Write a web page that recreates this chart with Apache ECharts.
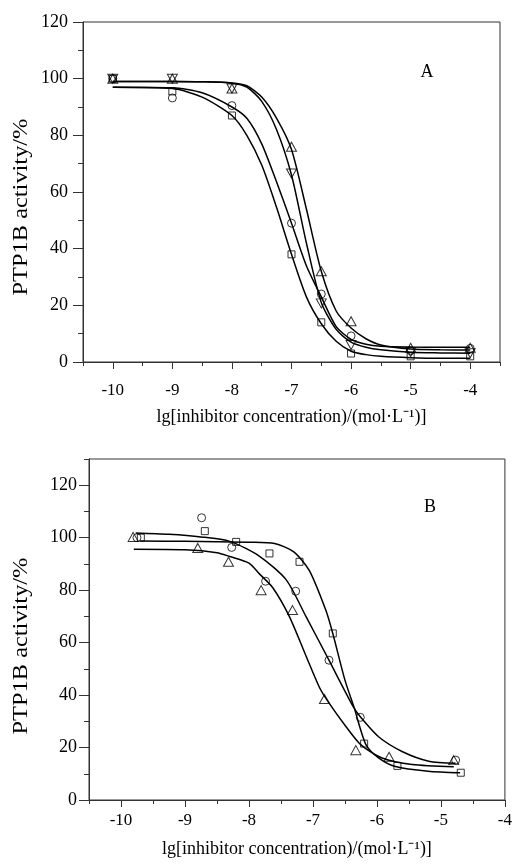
<!DOCTYPE html>
<html>
<head>
<meta charset="utf-8">
<script src="https://cdn.jsdelivr.net/npm/echarts@6/dist/echarts.min.js"></script>
<style>
  html, body { margin: 0; padding: 0; background: #fff; }
  #chart { width: 515px; height: 864px; }
</style>
</head>
<body>
<div id="chart"></div>
<script>
// ---- panel A: measured points ----
const pointXA = [-10, -9, -8, -7, -6.5, -6, -5, -4]
const squareA = [100, 95.5, 87, 38, 14, 3, 2, 2]
const circleA = [100, 93.2, 90.5, 49, 24, 9.2, 4, 4.8]
const upTriA = [100, 100, 96.5, 76, 32, 14.4, 5, 5]
const downTriA = [100, 100, 96.5, 66.5, 20.7, 6, 3.5, 3.1]

// panel A: fitted curves
const curveXA = [-10, -9, -8.5, -8, -7.75, -7.5, -7.25, -7, -6.75, -6.5, -6.25, -6, -5.75, -5.5, -5, -4.5, -4]
const squareCurveA = [97, 96.5, 93.5, 87, 80, 69.5, 54.5, 38, 23, 13.5, 7.3, 3.8, 2.6, 2, 1.5, 1.3, 1.3]
const circleCurveA = [97, 96.8, 95, 90, 86, 77, 63.5, 49, 34, 23, 12.5, 8, 6.3, 5.6, 5.3, 5.2, 5.2]
const upTriCurveA = [99, 99, 98.9, 98.5, 97.5, 93.5, 86, 75, 54, 32, 18, 12, 8.2, 6, 4.6, 4.3, 4.2]
const downTriCurveA = [99, 99, 98.9, 98.4, 97, 92, 82, 66, 42, 21, 11.5, 7, 5.2, 4.3, 3.4, 3.2, 3.1]

// ---- panel B: measured points ----
const squareXB = [-9.69, -8.69, -8.2, -7.68, -7.21, -6.69, -6.2, -5.68, -4.69]
const squareB = [100, 102.5, 98.4, 94, 90.8, 63.5, 21.5, 13, 10.4]
const circleXB = [-9.75, -8.74, -8.27, -7.74, -7.27, -6.75, -6.26, -4.77]
const circleB = [100, 107.6, 96.3, 83.4, 79.6, 53.3, 31.5, 15.2]
const triXB = [-9.81, -8.8, -8.32, -7.81, -7.32, -6.82, -6.33, -5.81, -4.8]
const triB = [100.3, 96.1, 90.8, 80, 72.4, 38.5, 19, 16.5, 15.2]

// panel B: fitted curves
const squareCurveXB = [-9.7, -9, -8.5, -8, -7.6, -7.3, -7.06, -6.8, -6.69, -6.5, -6.36, -6.17, -5.97, -5.71, -5.2, -4.7]
const squareCurveB = [98.7, 98.6, 98.5, 98.3, 97.8, 94.6, 87.6, 72.4, 63.5, 45.7, 35.5, 21, 16, 12.8, 11, 10.4]
const circleCurveXB = [-9.77, -9.25, -8.75, -8.3, -7.84, -7.42, -7.11, -6.75, -6.38, -6.26, -5.97, -5.6, -5.19, -4.77]
const circleCurveB = [101.8, 101.3, 100.3, 98.6, 93, 84, 70, 53.3, 36, 31.7, 24, 18.4, 14.8, 14]
const triCurveXB = [-9.8, -9, -8.5, -8.3, -8, -7.84, -7.63, -7.37, -7.11, -6.9, -6.75, -6.5, -6.25, -5.92, -5.45, -4.8]
const triCurveB = [95.6, 95.4, 94.3, 92.8, 90.3, 86.3, 81, 70, 55, 43, 37, 28.5, 21, 16, 13.5, 12.7]

// tick labels
const xTicksA = [-10, -9, -8, -7, -6, -5, -4]
const yTicksA = [0, 20, 40, 60, 80, 100, 120]
const xTicksB = [-10, -9, -8, -7, -6, -5, -4]
const yTicksB = [0, 20, 40, 60, 80, 100, 120]

const font = 'Liberation Serif'
const axisColor = '#333'
const hollow = { color: 'rgba(0,0,0,0)', borderColor: '#000', borderWidth: 1 }
const xName = 'lg[inhibitor concentration)/(mol·L⁻¹)]'

const pairs = (xs, ys) => xs.map((x, i) => [x, ys[i]])

const curve = (xs, ys, axis) => ({
  type: 'line',
  xAxisIndex: axis,
  yAxisIndex: axis,
  data: pairs(xs, ys),
  smooth: 0.25,
  showSymbol: false,
  silent: true,
  lineStyle: { color: '#000', width: 1.5 },
  z: 2
})

const points = (xs, ys, axis, symbol, size, rotate) => ({
  type: 'scatter',
  xAxisIndex: axis,
  yAxisIndex: axis,
  data: pairs(xs, ys),
  symbol,
  symbolSize: size,
  symbolRotate: rotate || 0,
  itemStyle: hollow,
  silent: true,
  z: 3
})

const mainX = (grid, max, ticks, margin, gap) => ({
  type: 'value', gridIndex: grid, position: 'bottom', min: -10.5, max,
  axisLine: { lineStyle: { color: axisColor, width: 1 } },
  axisTick: { customValues: ticks, length: 7, lineStyle: { color: axisColor } },
  axisLabel: { customValues: ticks, margin, color: '#000', fontFamily: font, fontSize: 17 },
  splitLine: { show: false },
  name: xName, nameLocation: 'middle', nameGap: gap,
  nameTextStyle: { color: '#000', fontFamily: font, fontSize: 18 }
})

const minorX = (grid, max) => ({
  type: 'value', gridIndex: grid, position: 'bottom', min: -10.5, max, interval: 0.5,
  axisLine: { show: false },
  axisTick: { length: 4, lineStyle: { color: axisColor } },
  axisLabel: { show: false },
  splitLine: { show: false }
})

const mainY = (grid, max, ticks, margin) => ({
  type: 'value', gridIndex: grid, position: 'left', min: 0, max,
  axisLine: { show: true, lineStyle: { color: axisColor, width: 1 } },
  axisTick: { show: true, customValues: ticks, length: 10, lineStyle: { color: axisColor } },
  axisLabel: { customValues: ticks, margin, color: '#000', fontFamily: font, fontSize: 18 },
  splitLine: { show: false }
})

const minorY = (grid, max) => ({
  type: 'value', gridIndex: grid, position: 'left', offset: 0, min: 0, max, interval: 10,
  axisLine: { show: false },
  axisTick: { show: true, length: 5, lineStyle: { color: axisColor } },
  axisLabel: { show: false },
  splitLine: { show: false }
})

const yTitle = (y) => ({
  type: 'text', x: 22, y, rotation: Math.PI / 2, scaleX: 1.22,
  style: { text: 'PTP1B activity/%', font: '20px ' + font, fill: '#000', align: 'center', verticalAlign: 'middle' }
})

const chart = echarts.init(document.getElementById('chart'))
chart.setOption({
  animation: false,
  backgroundColor: '#fff',
  grid: [
    { left: 83, right: 15, top: 22, bottom: 502, show: true, borderColor: axisColor, borderWidth: 1 },
    { left: 89, right: 9, top: 459, bottom: 64, show: true, borderColor: axisColor, borderWidth: 1 }
  ],
  xAxis: [
    mainX(0, -3.5, xTicksA, 20, 46),
    minorX(0, -3.5),
    mainX(1, -4, xTicksB, 12, 40),
    minorX(1, -4)
  ],
  yAxis: [
    mainY(0, 120, yTicksA, 15),
    minorY(0, 120),
    mainY(1, 130, yTicksB, 12),
    minorY(1, 130)
  ],
  graphic: [
    yTitle(207),
    yTitle(646),
    { type: 'text', x: 427, y: 72, style: { text: 'A', font: '18px ' + font, fill: '#000', align: 'center', verticalAlign: 'middle' } },
    { type: 'text', x: 430, y: 507, style: { text: 'B', font: '18px ' + font, fill: '#000', align: 'center', verticalAlign: 'middle' } }
  ],
  series: [
    curve(curveXA, squareCurveA, 0),
    curve(curveXA, circleCurveA, 0),
    curve(curveXA, upTriCurveA, 0),
    curve(curveXA, downTriCurveA, 0),
    points(pointXA, squareA, 0, 'rect', 7),
    points(pointXA, circleA, 0, 'circle', 8),
    points(pointXA, upTriA, 0, 'triangle', [10, 9]),
    points(pointXA, downTriA, 0, 'triangle', [10, 9], 180),

    curve(squareCurveXB, squareCurveB, 2),
    curve(circleCurveXB, circleCurveB, 2),
    curve(triCurveXB, triCurveB, 2),
    points(squareXB, squareB, 2, 'rect', 7),
    points(circleXB, circleB, 2, 'circle', 8),
    points(triXB, triB, 2, 'triangle', [10, 9])
  ]
})
</script>
</body>
</html>
